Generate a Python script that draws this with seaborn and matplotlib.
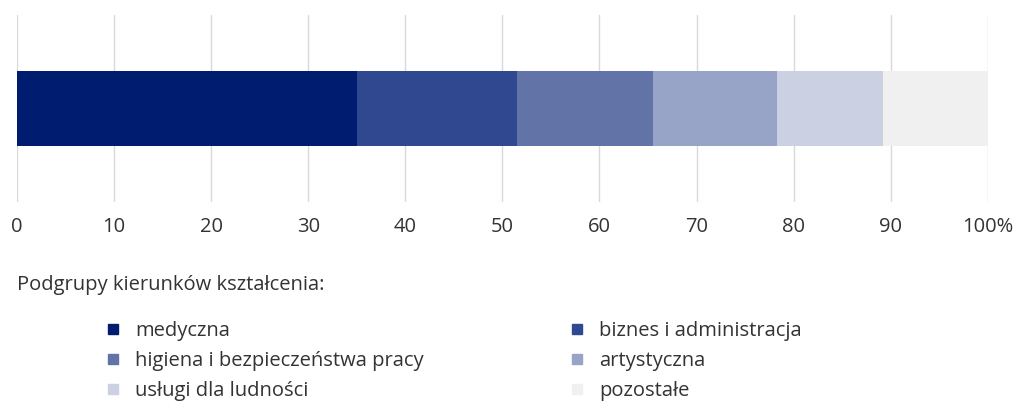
import seaborn as sns
import numpy as np
from matplotlib import pyplot as plt
from matplotlib.lines import Line2D

# udzialy podgrup kierunkow ksztalcenia (%)
categories = ['medyczna', 'biznes i administracja', 'higiena i bezpieczeństwa pracy',
              'artystyczna', 'usługi dla ludności', 'pozostałe']
shares = [35.0, 16.5, 14.0, 12.8, 10.9, 10.8]
colors = ['#001c70', '#2f4890', '#6273a8', '#97a4c7', '#cbd1e2', '#f0f0f0']
tick_values = [0, 10, 20, 30, 40, 50, 60, 70, 80, 90, 100]
tick_labels = ['0', '10', '20', '30', '40', '50', '60', '70', '80', '90', '100%']

sns.set_theme(style='white')
plt.rcParams['font.family'] = ['Open Sans', 'DejaVu Sans']
txt = '#333333'
fs = 14.5

fig = plt.figure(figsize=(10.30, 4.01), dpi=100)
ax = fig.add_axes([0.0165, 0.496, 0.9425, 0.4666])

# stacked bar: draw cumulative totals from the largest down so they overlap
cum = np.cumsum(shares)
for i in range(len(shares) - 1, -1, -1):
    sns.barplot(x=[cum[i]], y=['ogółem'], color=colors[i], orient='h',
                width=0.4, saturation=1, ax=ax, zorder=3, linewidth=0)

ax.set_xlim(0, 100)
ax.set_ylim(0.5, -0.5)
ax.set_xticks(tick_values)
ax.set_xticklabels(tick_labels, fontsize=fs, color=txt)
ax.set_yticks([])
ax.set_xlabel('')
ax.set_ylabel('')
ax.tick_params(axis='x', length=0, pad=11)
ax.grid(axis='x', color='#d9d9d9', linewidth=1, zorder=0)
ax.set_axisbelow(True)
for s in ax.spines.values():
    s.set_visible(False)

fig.text(0.0165, 0.289, 'Podgrupy kierunków kształcenia:', fontsize=fs,
         color=txt, ha='left', va='center')

def handles(idx):
    return [Line2D([], [], marker='s', ls='', markersize=7, color=colors[k]) for k in idx]

for idx, xpos in [([0, 2, 4], 0.102), ([1, 3, 5], 0.5525)]:
    leg = fig.legend(handles(idx), [categories[k] for k in idx], loc='upper left',
                     bbox_to_anchor=(xpos, 0.2), frameon=False, fontsize=fs,
                     handlelength=0.8, handletextpad=0.7, labelspacing=0.5,
                     borderaxespad=0, borderpad=0)
    for t in leg.get_texts():
        t.set_color(txt)

fig.savefig('out.png', dpi=100, facecolor='white')
